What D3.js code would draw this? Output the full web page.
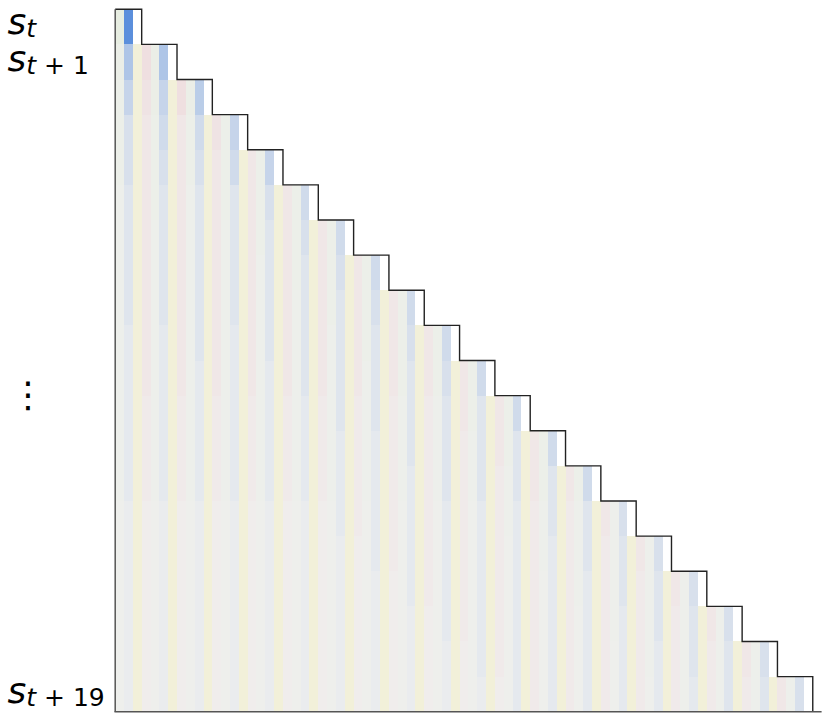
<!DOCTYPE html>
<html>
<head>
<meta charset="utf-8">
<script src="https://cdn.jsdelivr.net/npm/d3@7"></script>
<style>
  html, body { margin: 0; padding: 0; background: #fff; }
  svg { display: block; }
</style>
</head>
<body>
<svg id="chart" width="831" height="722"></svg>
<script>
// ---------- data ----------
// token types cycle along the columns: g = grey-green, b = blue, y = yellow, p = pink
const tokenTypes = ["g", "b", "y", "p"];
const typeColors = { g: "#d8e8c8", b: "#5b8fdc", y: "#f8f0a0", p: "#eca0aa" };
const baseColor = "#f0f0ef";

// one string per row; each hex digit is an intensity level 0..f, "-" = white (diagonal), spaces separate token groups
const rows = [
  "9f-",
  "7a87 7a-",
  "6886 7887 79-",
  "6685 6785 6786 68-",
  "6685 6685 6685 6785 68-",
  "5585 6585 5585 6585 6685 67-",
  "5585 5585 5585 5585 6585 6685 67-",
  "5585 5585 5585 5585 5585 6585 6685 67-",
  "5585 5585 5585 5585 5585 5585 6585 6685 67-",
  "5485 5485 5585 5485 5585 5585 5585 6585 6685 67-",
  "5485 5485 5485 5485 5485 5585 5585 5585 6585 6685 67-",
  "5484 5484 5484 5484 5484 5484 5584 5584 5584 5585 6585 67-",
  "5484 5484 5484 5484 5484 5484 5484 5484 5584 5584 5585 6585 67-",
  "5484 5484 5484 5484 5484 5484 5484 5484 5484 5584 5584 5585 6585 67-",
  "4383 4383 4383 4383 4383 4383 4484 4484 4484 4484 4484 5484 5584 5585 56-",
  "4383 4383 4383 4383 4383 4383 4383 4484 4484 4484 4484 4484 5484 5584 5585 56-",
  "4383 4383 4383 4383 4383 4383 4383 4383 4484 4484 4484 4484 4484 5484 5584 5585 56-",
  "4383 4383 4383 4383 4383 4383 4383 4383 4383 4484 4484 4484 4484 4484 5484 5584 5585 56-",
  "4383 4383 4383 4383 4383 4383 4383 4383 4383 4383 4484 4484 4484 4484 4484 5484 5584 5585 56-",
  "4383 4383 4383 4383 4383 4383 4383 4383 4383 4383 4383 4484 4484 4484 4484 4484 5484 5584 5585 56-"
];

const rowLabelRows = [0, 1, 19];
const rowLabelSubs = ["t", "t + 1", "t + 19"];
const gapLabel = "⋮";

// ---------- build cells ----------
const cells = [];
rows.forEach((str, r) => {
  const chars = str.replace(/ /g, "").split("");
  chars.forEach((ch, c) => {
    cells.push({ row: r, col: c, type: tokenTypes[c % tokenTypes.length], level: ch === "-" ? null : parseInt(ch, 16) });
  });
});
const nCols = d3.max(cells, d => d.col) + 1;

// ---------- scales ----------
const svg = d3.select("#chart");
const x = d3.scaleLinear().domain([0, nCols + 1]).range([115.2, 821.6]);
const y = d3.scaleBand().domain(d3.range(rows.length)).range([9.3, 711.7]);
const color = {};
tokenTypes.forEach(t => {
  color[t] = d3.scalePow().exponent(2).domain([0, 15]).range([baseColor, typeColors[t]]).interpolate(d3.interpolateRgb);
});

// ---------- cells ----------
svg.append("g")
  .attr("shape-rendering", "crispEdges")
  .selectAll("rect")
  .data(cells)
  .join("rect")
  .attr("x", d => x(d.col))
  .attr("y", d => y(d.row))
  .attr("width", d => x(d.col + 1) - x(d.col))
  .attr("height", y.bandwidth())
  .attr("fill", d => d.level === null ? "#ffffff" : color[d.type](d.level));

// ---------- staircase outline ----------
const pts = [[x(0), y(0)]];
rows.forEach((str, r) => {
  const last = str.replace(/ /g, "").length;
  pts.push([x(last), y(r)]);
  pts.push([x(last), y(r) + y.bandwidth()]);
});
svg.append("path")
  .attr("d", d3.line()(pts))
  .attr("fill", "none")
  .attr("stroke", "#222")
  .attr("stroke-width", 1.4);

// ---------- spines ----------
const yBottom = y.range()[1];
svg.append("line")
  .attr("x1", x(0)).attr("x2", x(0))
  .attr("y1", y(0)).attr("y2", yBottom)
  .attr("stroke", "#555").attr("stroke-width", 1.5);
svg.append("line")
  .attr("x1", x(0) - 0.75).attr("x2", x(nCols + 1))
  .attr("y1", yBottom).attr("y2", yBottom)
  .attr("stroke", "#555").attr("stroke-width", 1.5);

// ---------- row labels ----------
const labelBaselines = [34, 71, 703];
rowLabelRows.forEach((r, i) => {
  const t = svg.append("text")
    .attr("x", 7.5)
    .attr("y", labelBaselines[i])
    .attr("font-family", "DejaVu Sans")
    .attr("font-size", 36)
    .attr("fill", "#000");
  t.append("tspan").attr("font-style", "italic").text("s");
  const parts = rowLabelSubs[i].split(" ");
  const sg = t.append("tspan").attr("font-size", 25).attr("dy", 3);
  sg.append("tspan").attr("font-style", "italic").text(parts[0]);
  if (parts.length > 1) {
    sg.append("tspan").attr("font-style", "normal").attr("xml:space", "preserve").text(" " + parts[1] + " " + parts[2]);
  }
});

svg.append("text")
  .attr("x", 28)
  .attr("y", 394)
  .attr("text-anchor", "middle")
  .attr("dominant-baseline", "central")
  .attr("font-family", "DejaVu Sans")
  .attr("font-size", 36)
  .attr("fill", "#000")
  .text(gapLabel);
</script>
</body>
</html>
